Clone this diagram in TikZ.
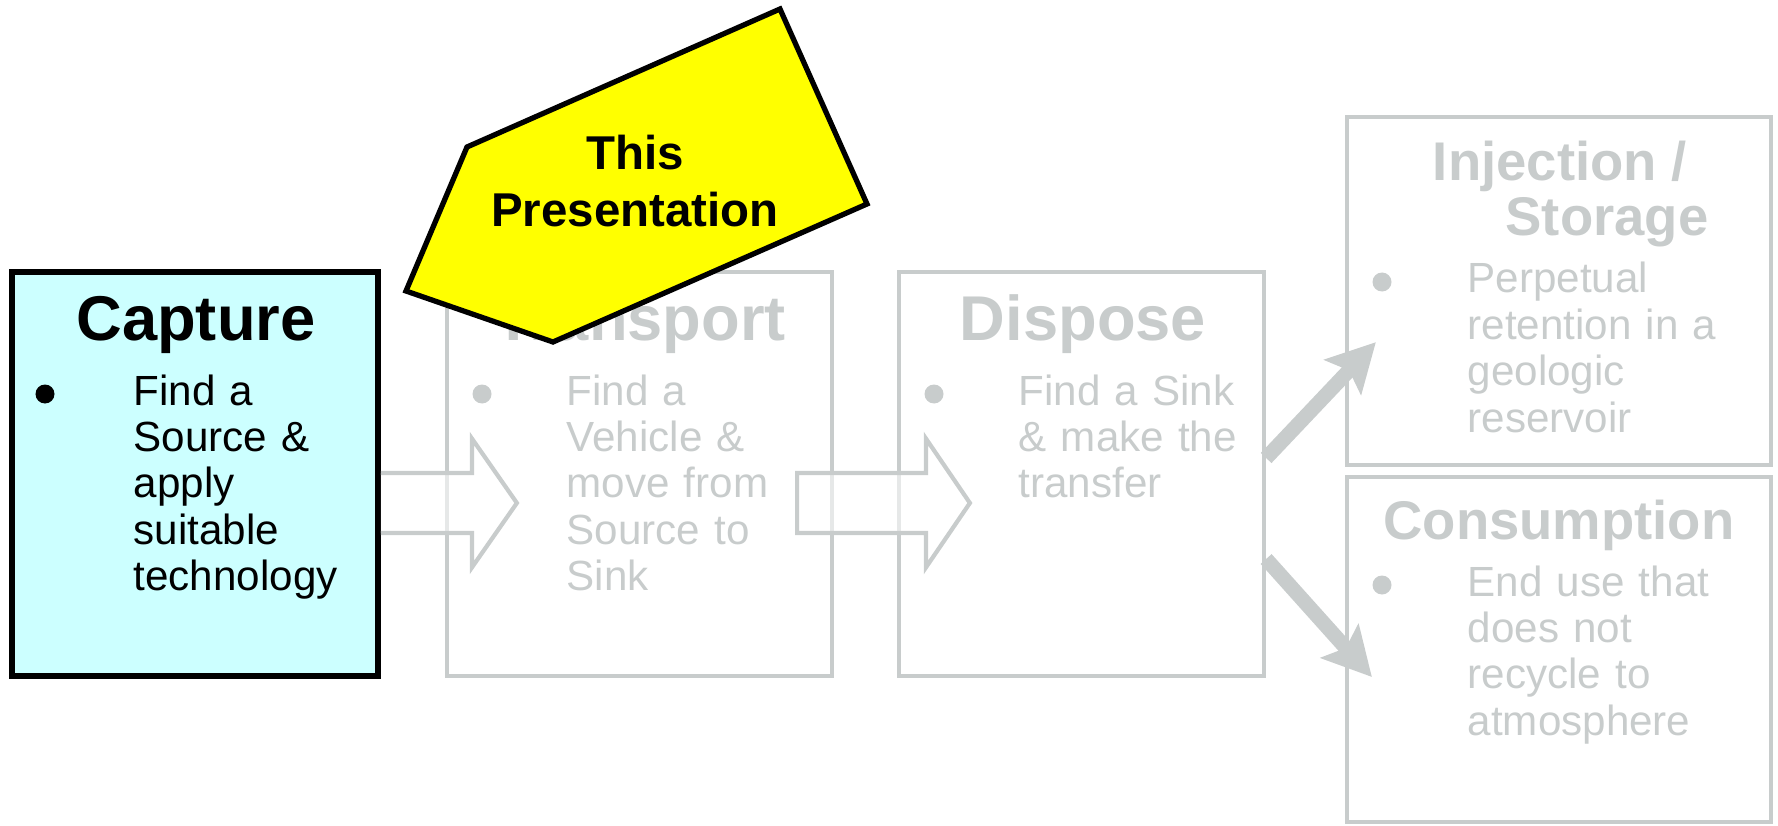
\documentclass[tikz,border=0pt]{standalone}
\usepackage{fontspec}
\setmainfont{Liberation Sans}
\usetikzlibrary{arrows.meta, calc}

\definecolor{fadegray}{RGB}{200,204,204}
\definecolor{capcyan}{RGB}{204,255,255}
\definecolor{callyel}{RGB}{255,255,0}

\begin{document}
\begin{tikzpicture}[
        stagebox/.style = {draw=fadegray, line width=1.2pt, inner sep=0},
        capbox/.style   = {draw=black, line width=1.6pt, fill=capcyan, inner sep=0},
        ttl/.style      = {font=\fontsize{18}{21}\selectfont\bfseries, anchor=base, inner sep=0},
        ttlsm/.style    = {font=\fontsize{15.5}{19.4}\selectfont\bfseries, anchor=base, inner sep=0},
        body/.style     = {font=\fontsize{12}{13.2}\selectfont, text width=3.2cm, align=left, anchor=base west, inner sep=0},
        dot/.style      = {circle, fill, inner sep=0, minimum size=0.19cm},
        hollow/.style   = {draw=fadegray, line width=1.2pt, fill=white, fill opacity=0.55},
        fat/.style      = {draw=fadegray, line width=4.2pt, -{Stealth[length=4.8mm, width=5mm, inset=0.9mm]}}
    ]
        \useasboundingbox (0,0) rectangle (17.78,8.25);

        % greyed-out stages
        \node[stagebox, minimum width=3.85cm, minimum height=4.04cm] (transport) at (6.395,3.51) {};
        \node[stagebox, minimum width=3.65cm, minimum height=4.04cm] (dispose)   at (10.815,3.51) {};
        \node[stagebox, minimum width=4.24cm, minimum height=3.48cm] (inject)    at (15.59,5.34) {};
        \node[stagebox, minimum width=4.24cm, minimum height=3.45cm] (consume)   at (15.59,1.755) {};

        \begin{scope}[text=fadegray]
            \node[ttl] (transttl) at (6.40,4.85) {Transport};
            \node[dot, fadegray] (transblt) at (4.82,4.31) {};
            \node[body] (transtxt) at (5.66,4.20) {Find a\\Vehicle \&\\move from\\Source to\\Sink};

            \node[ttl] (dispttl) at (10.83,4.85) {Dispose};
            \node[dot, fadegray] (dispblt) at (9.34,4.31) {};
            \node[body] (disptxt) at (10.18,4.20) {Find a Sink\\\& make the\\transfer};

            \node[ttlsm] (injttl)  at (15.60,6.44) {Injection /};
            \node[ttlsm] (injttl2) at (16.07,5.89) {Storage};
            \node[dot, fadegray] (injblt) at (13.82,5.43) {};
            \node[body] (injtxt) at (14.67,5.32) {Perpetual\\retention in a\\geologic\\reservoir};

            \node[ttlsm] (conttl) at (15.59,2.86) {Consumption};
            \node[dot, fadegray] (conblt) at (13.82,2.40) {};
            \node[body] (contxt) at (14.67,2.29) {End use that\\does not\\recycle to\\atmosphere};
        \end{scope}

        % capture stage
        \node[capbox, minimum width=3.66cm, minimum height=4.04cm] (capture) at (1.95,3.51) {};
        \node[ttl] (capttl) at (1.96,4.85) {Capture};
        \node[dot] (capblt) at (0.45,4.31) {};
        \node[body] (captxt) at (1.33,4.20) {Find a\\Source \&\\apply\\suitable\\technology};

        % hollow block arrows
        \coordinate (tipA) at ([xshift=0.72cm,yshift=-0.29cm]transport.west);
        \draw[hollow] ([yshift=0.01cm]capture.east) -- ($(tipA)+(-0.45,0.30)$) -- ++(0,0.345)
            -- (tipA) -- ($(tipA)+(-0.45,-0.645)$) -- ++(0,0.345) -- ([yshift=-0.59cm]capture.east);

        \coordinate (tailB) at ([xshift=-0.37cm,yshift=-0.29cm]transport.east);
        \coordinate (tipB)  at ([xshift=0.73cm,yshift=-0.29cm]dispose.west);
        \draw[hollow] ($(tailB)+(0,0.30)$) -- ($(tipB)+(-0.44,0.30)$) -- ++(0,0.345)
            -- (tipB) -- ($(tipB)+(-0.44,-0.645)$) -- ++(0,0.345) -- ($(tailB)+(0,-0.30)$) -- cycle;

        % split towards storage / consumption
        \draw[fat] ([yshift=0.16cm]dispose.east) -- ([xshift=0.31cm,yshift=1.25cm]inject.south west);
        \draw[fat] ([yshift=-0.85cm]dispose.east) -- ([xshift=0.27cm,yshift=-0.275cm]consume.west);

        % callout
        \draw[line width=1.5pt, fill=callyel, line join=miter]
            (7.80,8.16) -- (8.67,6.21) -- (5.53,4.83) -- (4.06,5.34) -- (4.67,6.78) -- cycle;
        \node[font=\fontsize{13.5}{16.2}\selectfont\bfseries, text width=3cm, align=center, anchor=base, inner sep=0]
            (pres) at (6.35,6.55) {This\\Presentation};
    \end{tikzpicture}
\end{document}
